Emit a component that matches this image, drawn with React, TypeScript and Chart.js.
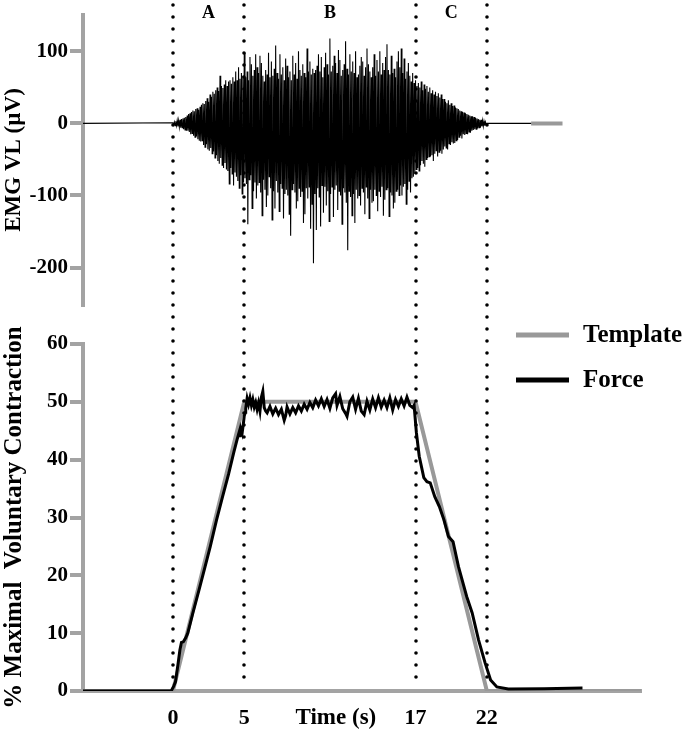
import React, { useEffect, useRef } from 'react';
import { Chart, registerables } from 'chart.js';

Chart.register(...registerables);

// ---------- data ----------
const X_MIN = -6.3;
const X_MAX = 32.8;
const xTickValues = [0, 5, 17, 22];
const phaseBounds = [0, 5, 17, 22];
const phaseLabels = ['A', 'B', 'C'];

// EMG (µV), sampled every emgStep seconds from emgStart
const emgStart = 0;
const emgStep = 0.05;
const emgValues = [
  1, -2, 2, -3, 3, -3, 4, -4, 4, -5, 5, -6, 6, -6, 7, -8, 8, -9, 9, -10,
  11, -10, 13, -12, 14, -15, 16, -14, 18, -17, 17, -19, 20, -18, 21, -22, 19, -24, 23, -25,
  26, -24, 28, -30, 27, -33, 31, -29, 35, -36, 30, -38, 40, -34, 37, -42, 44, -39, 41, -48,
  46, -44, 50, -52, 45, -56, 66, -48, 52, -58, 49, -62, 54, -55, 60, -64, 52, -66, 58, -84,
  60, -62, 55, -70, 64, -86, 58, -68, 72, -74, 60, -80, 78, -90, 62, -72, 70, -98, 66, -82,
  98, -76, 64, -84, 72, -140, 60, -78, 92, -72, 82, -118, 66, -94, 74, -82, 96, -104, 78, -86,
  70, -82, 94, -96, 84, -128, 66, -78, 58, -92, 74, -116, 68, -100, 98, -74, 64, -90, 86, -134,
  66, -94, 76, -118, 108, -80, 70, -96, 62, -122, 96, -84, 68, -90, 78, -132, 60, -98, 90, -92,
  80, -100, 64, -126, 72, -156, 60, -92, 94, -84, 68, -96, 84, -118, 62, -108, 100, -90, 74, -102,
  66, -94, 82, -138, 70, -126, 64, -90, 104, -104, 72, -88, 86, -146, 68, -112, 76, -194, 70, -98,
  74, -148, 80, -90, 96, -102, 72, -143, 92, -86, 64, -124, 78, -88, 98, -114, 82, -94, 68, -136,
  118, -98, 72, -88, 80, -130, 94, -92, 84, -86, 70, -120, 102, -94, 88, -100, 66, -140, 74, -90,
  82, -96, 114, -110, 76, -176, 68, -94, 96, -102, 72, -128, 86, -98, 70, -138, 100, -92, 64, -104,
  68, -100, 80, -114, 92, -90, 86, -96, 66, -126, 78, -88, 104, -104, 82, -132, 72, -92, 64, -110,
  78, -108, 96, -92, 66, -100, 88, -122, 72, -94, 100, -102, 68, -88, 84, -128, 74, -106, 92, -92,
  110, -90, 74, -129, 68, -96, 94, -100, 70, -118, 76, -110, 64, -94, 86, -92, 100, -100, 78, -86,
  104, -100, 70, -88, 90, -84, 62, -112, 72, -92, 84, -80, 66, -96, 58, -76, 70, -74, 56, -70,
  60, -64, 52, -62, 56, -66, 50, -58, 58, -52, 46, -56, 54, -60, 48, -50, 52, -48, 44, -46,
  50, -46, 42, -44, 46, -52, 40, -42, 44, -38, 38, -46, 42, -40, 36, -38, 40, -42, 34, -36,
  34, -32, 30, -34, 28, -36, 32, -28, 26, -30, 28, -26, 24, -28, 25, -27, 22, -24, 21, -23,
  20, -19, 18, -17, 17, -21, 16, -15, 15, -16, 14, -14, 13, -15, 12, -12, 11, -13, 10, -10,
  10, -9, 9, -8, 8, -8, 7, -7, 6, -6, 5, -6, 5, -4, 4, -4, 3, -3, 2, -2,
];
const emgRestBeforeX = [-6.3];
const emgRestAfterX = [22, 25.1];
const emgBaselineX = [25.1, 27.3];
const emgBaselineY = [0, 0];
const emgTicks = [-200, -100, 0, 100];
const EMG_MIN = -252.5;
const EMG_MAX = 151;

// Force panel (% MVC)
const templateX = [-6.3, 0, 5, 17, 22, 32.8];
const templateY = [0, 0, 50, 50, 0, 0];

const forceX = [
  -6.3, -3.5, -0.12, 0.05, 0.18, 0.35, 0.49, 0.6, 0.73, 0.9, 1.04, 1.4, 1.83, 2.2, 2.62, 3.05, 3.48, 3.9, 4.27,
  4.5, 4.65, 4.7, 4.76, 4.85, 4.95, 5.0, 5.08,
  5.1, 5.2, 5.3, 5.4, 5.5, 5.6, 5.7, 5.8, 5.9, 6.0, 6.1, 6.2, 6.3, 6.4, 6.5, 6.6, 6.8, 7.0, 7.2, 7.4, 7.6, 7.8,
  7.9, 8.0, 8.2, 8.4, 8.6, 8.8, 9.0, 9.2, 9.4, 9.6, 9.8, 10.0, 10.2, 10.4, 10.6, 10.8, 11.0, 11.2, 11.4, 11.5,
  11.7, 11.9, 12.1, 12.2, 12.4, 12.6, 12.8, 13.0, 13.2, 13.4, 13.6, 13.8, 14.0, 14.2, 14.4, 14.6, 14.8, 15.0,
  15.2, 15.4, 15.6, 15.8, 16.0, 16.2, 16.4, 16.6, 16.8,
  16.9, 17.06, 17.26, 17.58, 17.8, 18.03, 18.35, 18.67, 18.99, 19.31, 19.63, 20.01, 20.59, 20.97, 21.42,
  21.87, 22.26, 22.7, 23.5, 26.0, 28.7,
];
const forceY = [
  0, 0, 0, 0.8, 1.6, 4.5, 7.1, 8.4, 8.5, 9.2, 10, 13.5, 17.5, 21, 25, 29.5, 33.6, 37.5, 41.3,
  43.5, 44.8, 43.9, 45.3, 44.6, 46.5, 47.6, 48.2,
  48.8, 50.6, 49.6, 50.7, 49.4, 50.4, 49.1, 49.9, 48.7, 49.8, 48.4, 50.8, 51.8, 49.0, 48.4, 48.1, 49.2, 47.9, 48.9, 47.8, 48.7, 46.8,
  47.6, 49.1, 47.9, 49.0, 48.1, 49.3, 48.4, 49.6, 48.7, 49.9, 49.0, 50.3, 49.3, 50.5, 49.2, 50.4, 48.9, 50.7, 51.4, 49.4,
  50.9, 48.8, 48.0, 47.5, 50.0, 50.8, 48.7, 50.6, 48.4, 47.8, 50.1, 48.6, 50.5, 49.0, 50.7, 49.1, 50.3, 49.0,
  50.7, 48.6, 50.4, 49.2, 50.5, 49.3, 50.8, 49.4, 49.0,
  49.4, 44.7, 40.6, 36.9, 36.2, 36.0, 33.6, 31.9, 29.6, 26.7, 25.8, 21.5, 16.3, 13.5, 8.8,
  4.9, 1.9, 0.7, 0.35, 0.4, 0.5,
];
const forceTicks = [0, 10, 20, 30, 40, 50, 60];

// ---------- styles ----------
const AXIS_GREY = '#a3a3a3';
const TEMPLATE_GREY = '#999999';
const FONT_FAMILY = "'Liberation Serif', 'Times New Roman', 'DejaVu Serif', serif";

Chart.defaults.font.family = FONT_FAMILY;
Chart.defaults.font.weight = 'bold';
Chart.defaults.color = '#000';

function drawDotted(chart: any, fromY: number, toY: number) {
  const ctx = chart.ctx;
  const xs = chart.scales.x;
  ctx.save();
  ctx.strokeStyle = '#000';
  ctx.lineWidth = 3.6;
  ctx.lineCap = 'round';
  ctx.setLineDash([0, 12]);
  for (const b of phaseBounds) {
    const px = Math.round(xs.getPixelForValue(b));
    ctx.beginPath();
    ctx.moveTo(px, fromY);
    ctx.lineTo(px, toY);
    ctx.stroke();
  }
  ctx.restore();
}

const topPlugin = {
  id: 'topDecor',
  afterDatasetsDraw(chart: any) {
    drawDotted(chart, 5, chart.height);
    const ctx = chart.ctx;
    const xs = chart.scales.x;
    ctx.save();
    ctx.fillStyle = '#000';
    ctx.font = `bold 18px ${FONT_FAMILY}`;
    ctx.textAlign = 'center';
    ctx.textBaseline = 'middle';
    phaseLabels.forEach((lab, i) => {
      const mid = (phaseBounds[i] + phaseBounds[i + 1]) / 2;
      ctx.fillText(lab, xs.getPixelForValue(mid), 13);
    });
    ctx.restore();
  },
};

const bottomPlugin = {
  id: 'bottomDecor',
  afterDatasetsDraw(chart: any) {
    drawDotted(chart, 9, 360);
  },
  afterDraw(chart: any) {
    const ctx = chart.ctx;
    const xs = chart.scales.x;
    ctx.save();
    // legend
    const ds = chart.data.datasets.slice().reverse();
    ds.forEach((d: any, i: number) => {
      const y = 15 + i * 45;
      ctx.strokeStyle = d.borderColor;
      ctx.lineWidth = 5;
      ctx.setLineDash([]);
      ctx.beginPath();
      ctx.moveTo(516, y);
      ctx.lineTo(569, y);
      ctx.stroke();
      ctx.fillStyle = '#000';
      ctx.font = `bold 25px ${FONT_FAMILY}`;
      ctx.textAlign = 'left';
      ctx.textBaseline = 'middle';
      ctx.fillText(d.label, 583, y + 1);
    });
    // x axis title, between the tick labels
    ctx.font = `bold 23px ${FONT_FAMILY}`;
    ctx.textAlign = 'center';
    ctx.textBaseline = 'middle';
    const mid = (xs.getPixelForValue(phaseBounds[1]) + xs.getPixelForValue(phaseBounds[2])) / 2;
    ctx.fillText('Time (s)', mid + 6, chart.scales.x.top + 27);
    ctx.restore();
  },
};

const yAxisCommon = (title: string, titleSize: number) => ({
  type: 'linear' as const,
  position: 'left' as const,
  grid: {
    display: true,
    drawOnChartArea: false,
    drawTicks: true,
    tickLength: 13,
    lineWidth: 4,
    color: AXIS_GREY,
  },
  border: { display: true, color: AXIS_GREY, width: 4 },
  ticks: { color: '#000', font: { size: 21, weight: 'bold' as const }, padding: 2 },
  title: {
    display: true,
    text: title,
    color: '#000',
    font: { size: titleSize, weight: 'bold' as const },
    padding: 0,
  },
  afterFit: (s: any) => {
    s.width = 83;
  },
});

export default function App() {
  const topRef = useRef<HTMLCanvasElement>(null);
  const botRef = useRef<HTMLCanvasElement>(null);

  useEffect(() => {
    document.body.style.margin = '0';
    const emgPoints = [
      ...emgRestBeforeX.map((x) => ({ x, y: 0 })),
      ...emgValues.map((v, i) => ({ x: emgStart + i * emgStep, y: v })),
      ...emgRestAfterX.map((x) => ({ x, y: 0 })),
    ];
    const top = new Chart(topRef.current!, {
      type: 'line',
      data: {
        datasets: [
          {
            label: 'EMG VL',
            data: emgPoints,
            borderColor: '#000',
            borderWidth: 1.1,
            pointRadius: 0,
            tension: 0,
          },
          {
            label: 'baseline',
            data: emgBaselineX.map((x, i) => ({ x, y: emgBaselineY[i] })),
            borderColor: TEMPLATE_GREY,
            borderWidth: 4,
            pointRadius: 0,
          },
        ],
      },
      options: {
        animation: false,
        responsive: false,
        maintainAspectRatio: false,
        layout: { padding: { top: 10, bottom: 10, left: 0, right: 47 } },
        plugins: { legend: { display: false }, tooltip: { enabled: false } },
        scales: {
          x: { type: 'linear', min: X_MIN, max: X_MAX, display: false },
          y: {
            ...yAxisCommon('EMG VL (µV)', 23),
            min: EMG_MIN,
            max: EMG_MAX,
            afterBuildTicks: (s: any) => {
              s.ticks = emgTicks.map((v) => ({ value: v }));
            },
          },
        },
      },
      plugins: [topPlugin],
    });

    const bot = new Chart(botRef.current!, {
      type: 'line',
      data: {
        datasets: [
          {
            label: 'Force',
            data: forceX.map((x, i) => ({ x, y: forceY[i] })),
            borderColor: '#000',
            borderWidth: 3,
            pointRadius: 0,
            tension: 0,
          },
          {
            label: 'Template',
            data: templateX.map((x, i) => ({ x, y: templateY[i] })),
            borderColor: TEMPLATE_GREY,
            borderWidth: 4,
            pointRadius: 0,
            tension: 0,
          },
        ],
      },
      options: {
        animation: false,
        responsive: false,
        maintainAspectRatio: false,
        layout: { padding: { top: 24, bottom: 0, left: 0, right: 47 } },
        plugins: { legend: { display: false }, tooltip: { enabled: false } },
        scales: {
          x: {
            type: 'linear',
            min: X_MIN,
            max: X_MAX,
            afterBuildTicks: (s: any) => {
              s.ticks = xTickValues.map((v) => ({ value: v }));
            },
            grid: { display: false, drawTicks: false },
            border: { display: true, color: AXIS_GREY, width: 4 },
            ticks: {
              color: '#000',
              font: { size: 22, weight: 'bold' },
              padding: 14,
              autoSkip: false,
              maxRotation: 0,
            },
            afterFit: (s: any) => {
              s.height = 45;
            },
          },
          y: {
            ...yAxisCommon('% Maximal  Voluntary Contraction', 25),
            min: 0,
            max: 60,
            afterBuildTicks: (s: any) => {
              s.ticks = forceTicks.map((v) => ({ value: v }));
            },
          },
        },
      },
      plugins: [bottomPlugin],
    });

    return () => {
      top.destroy();
      bot.destroy();
    };
  }, []);

  return (
    <div style={{ position: 'relative', width: 688, height: 736, background: '#fff' }}>
      <canvas ref={topRef} width={688} height={320} style={{ position: 'absolute', left: 0, top: 0 }} />
      <canvas ref={botRef} width={688} height={416} style={{ position: 'absolute', left: 0, top: 320 }} />
    </div>
  );
}
